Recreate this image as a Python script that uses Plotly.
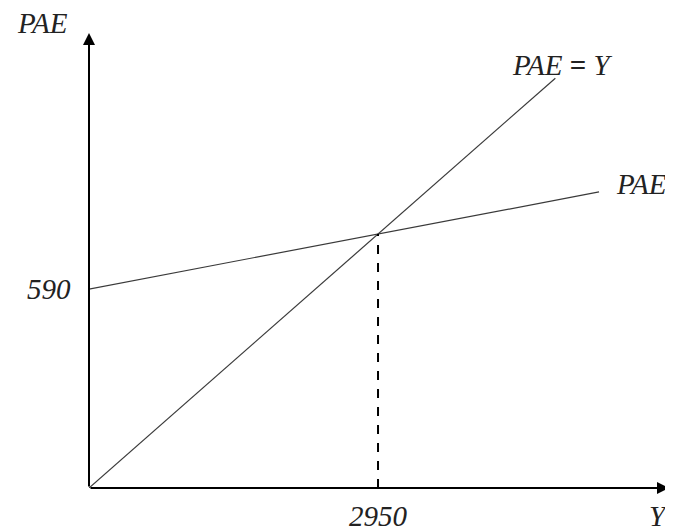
import plotly.graph_objects as go

# ---- data (schematic diagram values) ----
y_eq = 2950                      # equilibrium output
intercept_label = "590"          # autonomous expenditure label
intercept_pos = 2311             # schematic vertical position of the intercept
pae_end_x = 5206                 # end of PAE line
line45_end = 4760                # end of 45-degree line
x_max = 5920
y_max = 5285

pae_slope = (y_eq - intercept_pos) / y_eq
pae_x = [0, pae_end_x]
pae_y = [intercept_pos, intercept_pos + pae_slope * pae_end_x]
l45_x = [0, line45_end]
l45_y = [0, line45_end]
dash_x = [y_eq, y_eq]
dash_y = [0, y_eq]

FONT = "Liberation Serif"

fig = go.Figure()
fig.add_trace(go.Scatter(x=l45_x, y=l45_y, mode="lines",
                         line=dict(color="#3a3a3a", width=1.2), hoverinfo="skip"))
fig.add_trace(go.Scatter(x=pae_x, y=pae_y, mode="lines",
                         line=dict(color="#3a3a3a", width=1.2), hoverinfo="skip"))
fig.add_trace(go.Scatter(x=dash_x, y=dash_y, mode="lines",
                         line=dict(color="black", width=2, dash="dash"), hoverinfo="skip"))

ann = []
# axes with arrows
ann.append(dict(x=x_max, y=0, ax=0, ay=0, xref="x", yref="y", axref="x", ayref="y",
                text="", showarrow=True, arrowhead=2, arrowsize=1.2, arrowwidth=2,
                arrowcolor="black", standoff=0))
ann.append(dict(x=0, y=y_max, ax=0, ay=0, xref="x", yref="y", axref="x", ayref="y",
                text="", showarrow=True, arrowhead=2, arrowsize=1.2, arrowwidth=2,
                arrowcolor="black", standoff=0))

tf = dict(family=FONT, size=29, color="#222")
ann.append(dict(x=-0.081, y=1.022, xref="paper", yref="paper", text="<i>PAE</i>",
                showarrow=False, font=tf, xanchor="center", yanchor="middle"))
ann.append(dict(x=0.8155, y=0.9297, xref="paper", yref="paper",
                text="<i>PAE</i> <b>=</b> <i>Y</i>",
                showarrow=False, font=tf, xanchor="center", yanchor="middle"))
ann.append(dict(x=0.953, y=0.668, xref="paper", yref="paper", text="<i>PAE</i>",
                showarrow=False, font=tf, xanchor="center", yanchor="middle"))
ann.append(dict(x=-0.069, y=intercept_pos, xref="paper", yref="y",
                text="<i>" + intercept_label + "</i>",
                showarrow=False, font=tf, xanchor="center", yanchor="middle"))
ann.append(dict(x=y_eq, y=-0.062, xref="x", yref="paper", text="<i>" + str(y_eq) + "</i>",
                showarrow=False, font=tf, xanchor="center", yanchor="middle"))
ann.append(dict(x=0.982, y=-0.062, xref="paper", yref="paper", text="<i>Y</i>",
                showarrow=False, font=tf, xanchor="center", yanchor="middle"))

# page body has an 8px margin, so the figure is 8px smaller on each axis
fig.update_layout(
    width=665, height=523,
    margin=dict(l=81, r=4, t=25, b=43),
    paper_bgcolor="white", plot_bgcolor="white",
    showlegend=False,
    annotations=ann,
    xaxis=dict(range=[0, x_max], showgrid=False, zeroline=False, showline=False,
               showticklabels=False, ticks=""),
    yaxis=dict(range=[0, y_max], showgrid=False, zeroline=False, showline=False,
               showticklabels=False, ticks=""),
)

fig.write_html("out.html")
